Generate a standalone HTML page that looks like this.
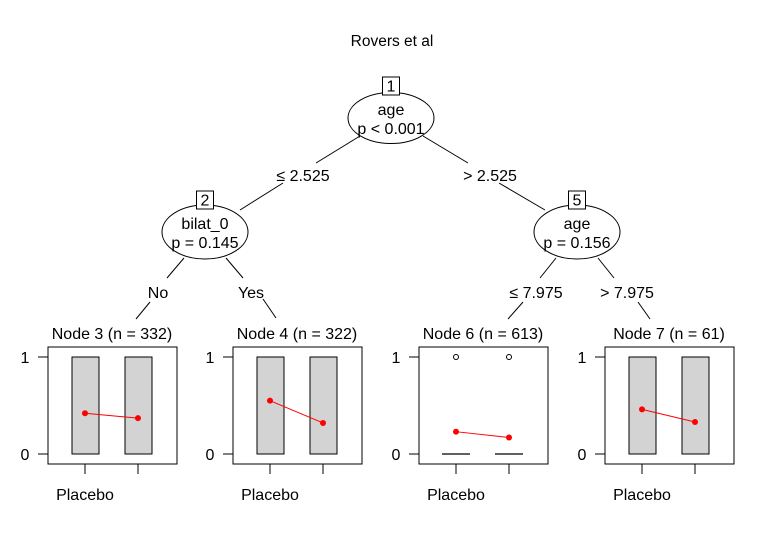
<!DOCTYPE html>
<html><head><meta charset="utf-8"><style>body{margin:0;background:#fff}svg{display:block;font-family:"Liberation Sans",Arial,sans-serif}</style></head>
<body>
<svg id="c" width="782" height="541" viewBox="0 0 782 541">
<rect width="782" height="541" fill="#fff"/>
<text x="392" y="46" font-size="15.5" text-anchor="middle">Rovers et al</text>
<g stroke="#000" stroke-width="1" fill="none">
<line x1="360" y1="136" x2="316" y2="163"/><line x1="283" y1="183" x2="240" y2="210"/>
<line x1="423" y1="136" x2="468" y2="163"/><line x1="499" y1="183" x2="545" y2="210"/>
<line x1="184" y1="258" x2="167" y2="278"/><line x1="150" y1="302" x2="136" y2="319"/>
<line x1="226" y1="258" x2="243" y2="278"/><line x1="263" y1="299" x2="276" y2="318"/>
<line x1="556" y1="258" x2="540" y2="278"/><line x1="523" y1="302" x2="508" y2="319"/>
<line x1="598" y1="258" x2="614" y2="278"/><line x1="638" y1="302" x2="650" y2="319"/>
</g>
<g font-size="16" text-anchor="middle">
<text x="303" y="181">≤ 2.525</text>
<text x="490" y="181">&gt; 2.525</text>
<text x="158" y="298">No</text>
<text x="251" y="298">Yes</text>
<text x="536" y="298">≤ 7.975</text>
<text x="627" y="298">&gt; 7.975</text>
</g>
<g id="inner" font-size="16" text-anchor="middle"></g>
<g id="panels" font-size="16"></g>
</svg>
<script>
const nodeIds=["1","2","5"];
const nodeVars=["age","bilat_0","age"];
const nodePs=["p < 0.001","p = 0.145","p = 0.156"];
const termIds=[3,4,6,7];
const termNs=[332,322,613,61];
const meansA=[0.42,0.55,0.23,0.46];
const meansB=[0.37,0.32,0.17,0.33];
const boxLo=[0,0,0,0];
const boxHi=[1,1,0,1];
const outliers=[false,false,true,false];
const yTicks=[0,1];
const NS="http://www.w3.org/2000/svg";
function mk(t,a,p){const e=document.createElementNS(NS,t);for(const k in a)e.setAttribute(k,a[k]);p.appendChild(e);return e;}
const inner=document.getElementById('inner');
const nodePos=[[391,118,43,25.5],[205,232,43,27],[577,232,43,27]];
nodeIds.forEach((id,i)=>{const[cx,cy,rx,ry]=nodePos[i];
 const g=mk('g',{},inner);
 
 
 mk('ellipse',{cx,cy,rx,ry,fill:'#fff',stroke:'#000'},g);
 mk('rect',{x:cx-8.5,y:cy-41,width:17,height:18,fill:'#fff',stroke:'#000'},g);
 mk('text',{x:cx,y:cy-26.5},g).textContent=id;
 mk('text',{x:cx,y:cy-3},g).textContent=nodeVars[i];
 mk('text',{x:cx,y:cy+16},g).textContent=nodePs[i];
});
const panels=document.getElementById('panels');
const px=[48,233,419,605];
const y0=454,y1=357;
function ys(v){return y0+(y1-y0)*v;}
termIds.forEach((id,i)=>{const L=px[i];
 const g=mk('g',{},panels);
 
 
 const t=mk('text',{x:L+64,y:339,'text-anchor':'middle'},g);t.textContent='Node '+id+' (n = '+termNs[i]+')';
 mk('rect',{x:L,y:347,width:129,height:117,fill:'#fff',stroke:'#000'},g);
 yTicks.forEach(v=>{mk('line',{x1:L-10,x2:L,y1:ys(v),y2:ys(v),stroke:'#000'},g);
  const tt=mk('text',{x:L-23,y:ys(v)+6,'text-anchor':'middle'},g);tt.textContent=v;});
 const cxs=[L+37,L+90];
 cxs.forEach(c=>mk('line',{x1:c,x2:c,y1:464,y2:474,stroke:'#000'},g));
 const pl=mk('text',{x:L+37,y:500,'text-anchor':'middle'},g);pl.textContent='Placebo';
 cxs.forEach(c=>{
  if(boxHi[i]>boxLo[i]){const b=mk('rect',{x:c-13,y:ys(boxHi[i]),width:27,height:ys(boxLo[i])-ys(boxHi[i]),fill:'#d3d3d3',stroke:'#000'},g);
   }
  else{mk('line',{x1:c-14,x2:c+14,y1:ys(boxLo[i]),y2:ys(boxLo[i]),stroke:'#000','stroke-width':1.3},g);}
  if(outliers[i]){mk('circle',{cx:c,cy:ys(1),r:2.5,fill:'none',stroke:'#000'},g);}
 });
 const m=[meansA[i],meansB[i]];
 mk('line',{x1:cxs[0],y1:ys(m[0]),x2:cxs[1],y2:ys(m[1]),stroke:'red'},g);
 m.forEach((v,k)=>{const d=mk('circle',{cx:cxs[k],cy:ys(v),r:3,fill:'red'},g);
  });
});
</script>
</body></html>
